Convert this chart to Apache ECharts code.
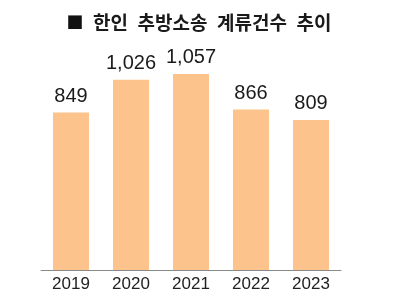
<!DOCTYPE html>
<html><head><meta charset="utf-8">
<script src="https://cdn.jsdelivr.net/npm/echarts@6/dist/echarts.min.js"></script>
<style>html,body{margin:0;padding:0;background:#fff}#c{width:400px;height:300px}</style>
</head><body><div id="c"></div>
<script>
const categories = ['2019', '2020', '2021', '2022', '2023'];
const values = [849, 1026, 1057, 866, 809];
const titleWords = ['한인', '추방소송', '계류건수', '추이'];

const chart = echarts.init(document.getElementById('c'), null, {renderer: 'canvas'});
chart.setOption({
  animation: false,
  backgroundColor: '#fff',
  title: {
    text: '{sq|■}\u2002' + titleWords.join('\u2002'),
    left: 194, textAlign: 'center',
    top: 8,
    textStyle: {
      fontFamily: 'Noto Sans CJK KR', fontSize: 19, fontWeight: 'bold', color: '#1a1a1a',
      rich: {sq: {fontFamily: 'Noto Sans CJK KR', fontSize: 17, fontWeight: 'normal', color: '#111'}}
    }
  },
  grid: {left: 41, right: 59, top: 66, bottom: 30, containLabel: false},
  xAxis: {
    type: 'category',
    data: categories,
    axisLine: {lineStyle: {color: '#8a8a8a', width: 1}},
    axisTick: {show: false},
    axisLabel: {fontFamily: 'Liberation Sans', fontSize: 17, color: '#222', margin: 6}
  },
  yAxis: {
    type: 'value', min: 0, max: 1100,
    show: false,
    splitLine: {show: false}
  },
  series: [{
    type: 'bar',
    data: values,
    barWidth: 36,
    itemStyle: {color: '#FCC48C'},
    label: {
      show: true, position: 'top', distance: 6,
      fontFamily: 'Liberation Sans', fontSize: 20, color: '#1a1a1a',
      formatter: p => p.value.toLocaleString('en-US')
    }
  }]
});
</script></body></html>
